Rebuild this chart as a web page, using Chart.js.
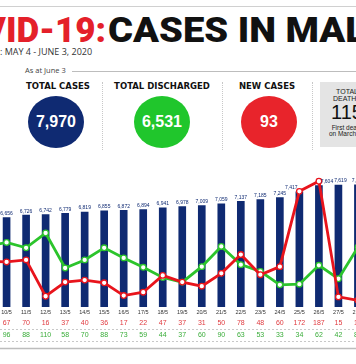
<!DOCTYPE html>
<html><head><meta charset="utf-8">
<script src="https://cdn.jsdelivr.net/npm/chart.js@4.4.0/dist/chart.umd.min.js"></script>
<style>
html,body{margin:0;padding:0;width:356px;height:364px;overflow:hidden;background:#fff;}
body{position:relative;font-family:"Liberation Sans",Arial,sans-serif;}
.abs{position:absolute;white-space:nowrap;}
.title{font-family:Roboto,"Liberation Sans",sans-serif;font-weight:900;font-size:35px;line-height:35px;top:13px;}
.head{font-family:"DejaVu Sans",sans-serif;font-weight:bold;font-size:8.5px;line-height:10px;top:81px;color:#111;text-align:center;width:120px;}
.circ{border-radius:50%;width:56px;height:52px;top:96px;display:flex;align-items:center;justify-content:center;color:#fff;font-family:"Liberation Sans",Arial,sans-serif;font-weight:bold;font-size:16px;}
.sep{border-left:1px dotted #c8c8c8;top:82px;height:68px;width:0;}
.dtxt{font-family:"Liberation Sans",Arial,sans-serif;color:#222;text-align:center;width:60px;left:317px;}
</style></head>
<body>
<div class="abs" style="left:0;top:6px;width:356px;height:1px;background:#d0d0d0"></div>
<div class="abs title" id="tRed" style="right:250px;color:#e4202a">COVID-19:</div>
<div class="abs title" id="tBlk" style="left:108px;color:#111;transform:scaleX(1.09);transform-origin:0 0">CASES IN MALAYSIA</div>
<div class="abs" style="left:0;top:47px;font-family:'Open Sans',sans-serif;font-size:9px;line-height:10px;color:#333">: MAY 4 - JUNE 3, 2020</div>
<div class="abs" style="left:25px;top:66px;font-family:'Open Sans',sans-serif;font-size:7.5px;line-height:9px;color:#444">As at June 3</div>
<div class="abs" style="left:72px;top:71px;width:284px;height:1px;background:#bdbdbd"></div>

<div class="abs head" style="left:-2px">TOTAL CASES</div>
<div class="abs head" style="left:102px">TOTAL DISCHARGED</div>
<div class="abs head" style="left:207px">NEW CASES</div>

<div class="abs sep" style="left:102px"></div>
<div class="abs sep" style="left:222px"></div>
<div class="abs sep" style="left:312px"></div>

<div class="abs circ" id="c1" style="left:28px;background:#0f2a72"></div>
<div class="abs circ" id="c2" style="left:134px;background:#20c62c"></div>
<div class="abs circ" id="c3" style="left:241px;background:#e8242b"></div>

<div class="abs" style="left:320px;top:82px;width:60px;height:65px;background:#e4e4e4"></div>
<div class="abs dtxt" style="top:88px;font-size:7px;line-height:7px">TOTAL</div>
<div class="abs dtxt" style="top:95px;font-size:7px;line-height:7px">DEATHS</div>
<div class="abs dtxt" id="dnum" style="top:102px;font-size:20px;line-height:20px;color:#111"></div>
<div class="abs dtxt" style="top:124px;font-size:6.5px;line-height:7px">First death</div>
<div class="abs dtxt" style="top:130px;font-size:6.5px;line-height:7px">on March 17</div>

<div class="abs" style="left:-28px;top:160px;width:401px;height:200px">
<canvas id="c" width="401" height="200"></canvas>
</div>

<script>
// ---- data ----
const dates = ["9/5","10/5","11/5","12/5","13/5","14/5","15/5","16/5","17/5","18/5","19/5","20/5","21/5","22/5","23/5","24/5","25/5","26/5","27/5","28/5"];
const cumulativeCases = [6589,6656,6726,6742,6779,6819,6855,6872,6894,6941,6978,7009,7059,7137,7185,7245,7417,7604,7619,7629];
const newCases = [68,67,70,16,37,40,36,17,22,47,37,31,50,78,48,60,172,187,15,10];
const discharged = [90,96,88,110,58,70,88,73,59,44,37,60,90,63,53,33,34,62,42,89];
const summary = {totalCases:"7,970", totalDischarged:"6,531", newCasesToday:"93", totalDeaths:"115"};

document.getElementById('c1').textContent = summary.totalCases;
document.getElementById('c2').textContent = summary.totalDischarged;
document.getElementById('c3').textContent = summary.newCasesToday;
document.getElementById('dnum').textContent = summary.totalDeaths;

// label nudges (layout only)
const labelShift = dates.map(d => d==="25/5" ? -8 : d==="26/5" ? 8 : d==="27/5" ? 2 : 0);

const NAVY = '#0f2a72', RED = '#e8141c', GREEN = '#2cc42c';

const rowsPlugin = {
  id:'rows',
  afterDatasetsDraw(chart){
    const {ctx, scales:{x,y}} = chart;
    ctx.save();
    ctx.textAlign='center';
    ctx.font='5px "Liberation Sans", Arial';
    ctx.fillStyle=NAVY; ctx.textBaseline='bottom';
    cumulativeCases.forEach((v,i)=>{
      ctx.fillText(v.toLocaleString('en-US'), x.getPixelForValue(i)+labelShift[i], y.getPixelForValue(v)-1.5);
    });
    ctx.textBaseline='middle';
    ctx.font='5.5px "Liberation Sans", Arial';
    ctx.fillStyle='#333';
    dates.forEach((d,i)=>ctx.fillText(d, x.getPixelForValue(i), 152));
    ctx.font='7px "Liberation Sans", Arial';
    ctx.fillStyle='#e0393e';
    newCases.forEach((v,i)=>ctx.fillText(String(v), x.getPixelForValue(i), 163.5));
    ctx.fillStyle='#3aad3a';
    discharged.forEach((v,i)=>ctx.fillText(String(v), x.getPixelForValue(i), 175.5));
    ctx.strokeStyle='#c8c8c8'; ctx.lineWidth=1; ctx.setLineDash([2,2]);
    [169.5,181.5].forEach(yy=>{ctx.beginPath();ctx.moveTo(0,yy);ctx.lineTo(chart.width,yy);ctx.stroke();});
    ctx.setLineDash([]); ctx.strokeStyle='#bdbdbd'; ctx.lineWidth=1.5;
    ctx.beginPath();ctx.moveTo(0,188.5);ctx.lineTo(chart.width,188.5);ctx.stroke();
    ctx.restore();
  }
};

new Chart(document.getElementById('c'), {
  data:{
    labels:dates,
    datasets:[
      {type:'line', label:'New cases', data:newCases, yAxisID:'y1', order:0,
       borderColor:RED, borderWidth:2.8, pointRadius:2.8, pointBackgroundColor:'#fff', pointBorderColor:RED, pointBorderWidth:1.3, tension:0},
      {type:'line', label:'Discharged', data:discharged, yAxisID:'y1', order:1,
       borderColor:GREEN, borderWidth:2.8, pointRadius:2.8, pointBackgroundColor:'#fff', pointBorderColor:GREEN, pointBorderWidth:1.3, tension:0},
      {type:'bar', label:'Total cases', data:cumulativeCases, yAxisID:'y', order:2,
       backgroundColor:NAVY, barThickness:7}
    ]
  },
  options:{
    responsive:false, animation:false,
    layout:{padding:{top:5,bottom:53,left:0,right:0}},
    plugins:{legend:{display:false}, tooltip:{enabled:false}},
    scales:{
      x:{display:false, offset:true},
      y:{display:false, min:4000, max:8206},
      y1:{display:false, min:0, max:210.7, position:'right'}
    }
  },
  plugins:[rowsPlugin]
});
</script>
</body></html>
